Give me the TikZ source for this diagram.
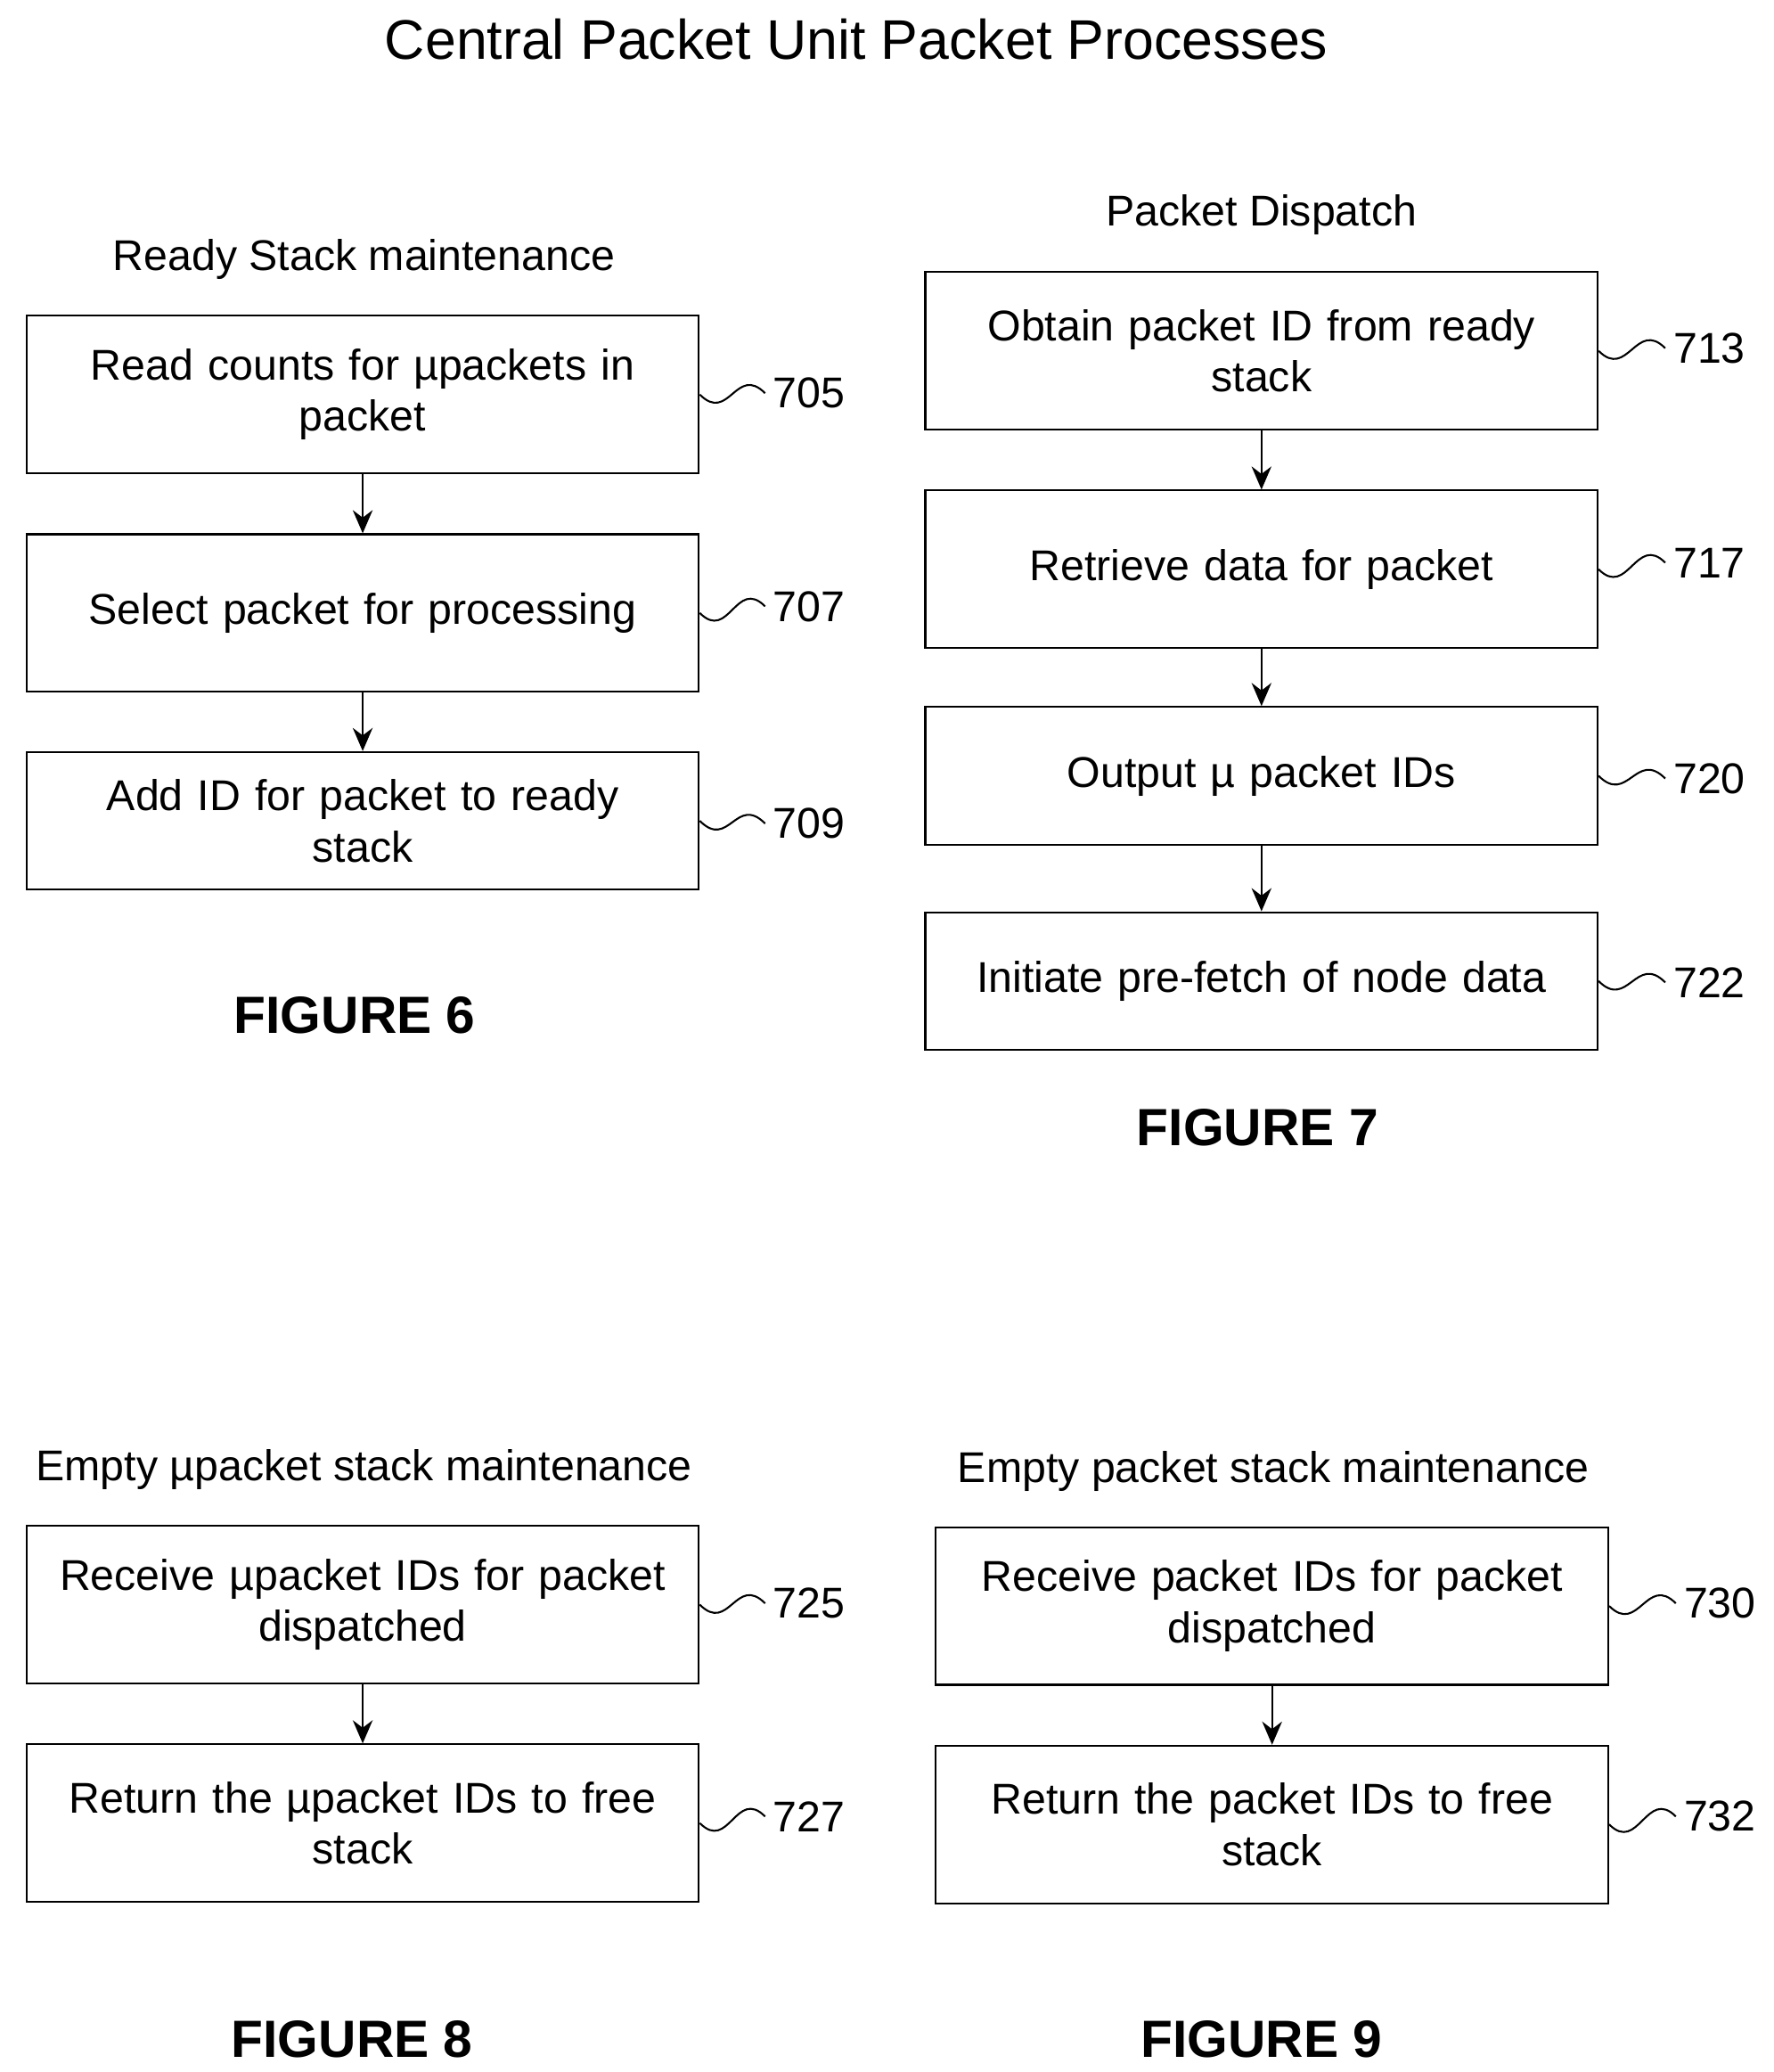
\documentclass[tikz,border=0pt]{standalone}
\usepackage{fontspec}
\setmainfont{Liberation Sans}
\usetikzlibrary{arrows.meta}
\tikzset{
  box/.style={draw=black, thick, rectangle, minimum width=10.16cm, minimum height=2.38cm, text width=9.9cm, align=center, font=\fontsize{18.5}{22}\selectfont},
  lbox/.style={box, minimum height=2.08cm},
  head/.style={font=\fontsize{18.5}{22}\selectfont},
  fig/.style={font=\fontsize{22.5}{26}\selectfont\bfseries},
  num/.style={font=\fontsize{18.5}{22}\selectfont, anchor=west},
  arr/.style={-{Stealth[length=3.5mm,width=3mm]}, thick},
  wig/.style={thick}
}
\newcommand{\wiggle}[2]{\draw[wig] (#1.east) .. controls +(22,22) and +(-22,-22) .. (#2.west);}
\begin{document}
\begin{tikzpicture}[x=0.02cm, y=-0.02cm]
\useasboundingbox (0,0) rectangle (1340,1565);
\node[font=\fontsize{24}{28}\selectfont] (title) at (647,30) {Central Packet Unit Packet Processes};
% figure 6
\node[head] (h6) at (275,196) {Ready Stack maintenance};
\node[box] (b705) at (274,298) {Read counts for µpackets in\\ packet};
\node[box] (b707) at (274,463) {Select packet for processing};
\node[lbox] (b709) at (274,620) {Add ID for packet to ready\\ stack};
\node[num] (n705) at (578,297) {705};
\node[num] (n707) at (578,458) {707};
\node[num] (n709) at (578,622) {709};
\draw[arr] (b705) -- (b707);
\draw[arr] (b707) -- (b709);
\wiggle{b705}{n705}
\wiggle{b707}{n707}
\wiggle{b709}{n709}
\node[fig] (f6) at (268,767) {FIGURE 6};
% figure 7
\node[head] (h7) at (953,162) {Packet Dispatch};
\node[box] (b713) at (953,265) {Obtain packet ID from ready\\ stack};
\node[box] (b717) at (953,430) {Retrieve data for packet};
\node[lbox] (b720) at (953,586) {Output µ packet IDs};
\node[lbox] (b722) at (953,741) {Initiate pre-fetch of node data};
\node[num] (n713) at (1258,263) {713};
\node[num] (n717) at (1258,425) {717};
\node[num] (n720) at (1258,588) {720};
\node[num] (n722) at (1258,742) {722};
\draw[arr] (b713) -- (b717);
\draw[arr] (b717) -- (b720);
\draw[arr] (b720) -- (b722);
\wiggle{b713}{n713}
\wiggle{b717}{n717}
\wiggle{b720}{n720}
\wiggle{b722}{n722}
\node[fig] (f7) at (950,852) {FIGURE 7};
% figure 8
\node[head] (h8) at (275,1110) {Empty µpacket stack maintenance};
\node[box] (b725) at (274,1212) {Receive µpacket IDs for packet\\ dispatched};
\node[box] (b727) at (274,1377) {Return the µpacket IDs to free\\ stack};
\node[num] (n725) at (578,1211) {725};
\node[num] (n727) at (578,1372) {727};
\draw[arr] (b725) -- (b727);
\wiggle{b725}{n725}
\wiggle{b727}{n727}
\node[fig] (f8) at (266,1540) {FIGURE 8};
% figure 9
\node[head] (h9) at (962,1111) {Empty packet stack maintenance};
\node[box] (b730) at (961,1213) {Receive packet IDs for packet\\ dispatched};
\node[box] (b732) at (961,1378) {Return the packet IDs to free\\ stack};
\node[num] (n730) at (1266,1211) {730};
\node[num] (n732) at (1266,1372) {732};
\draw[arr] (b730) -- (b732);
\wiggle{b730}{n730}
\wiggle{b732}{n732}
\node[fig] (f9) at (953,1540) {FIGURE 9};
\end{tikzpicture}
\end{document}
